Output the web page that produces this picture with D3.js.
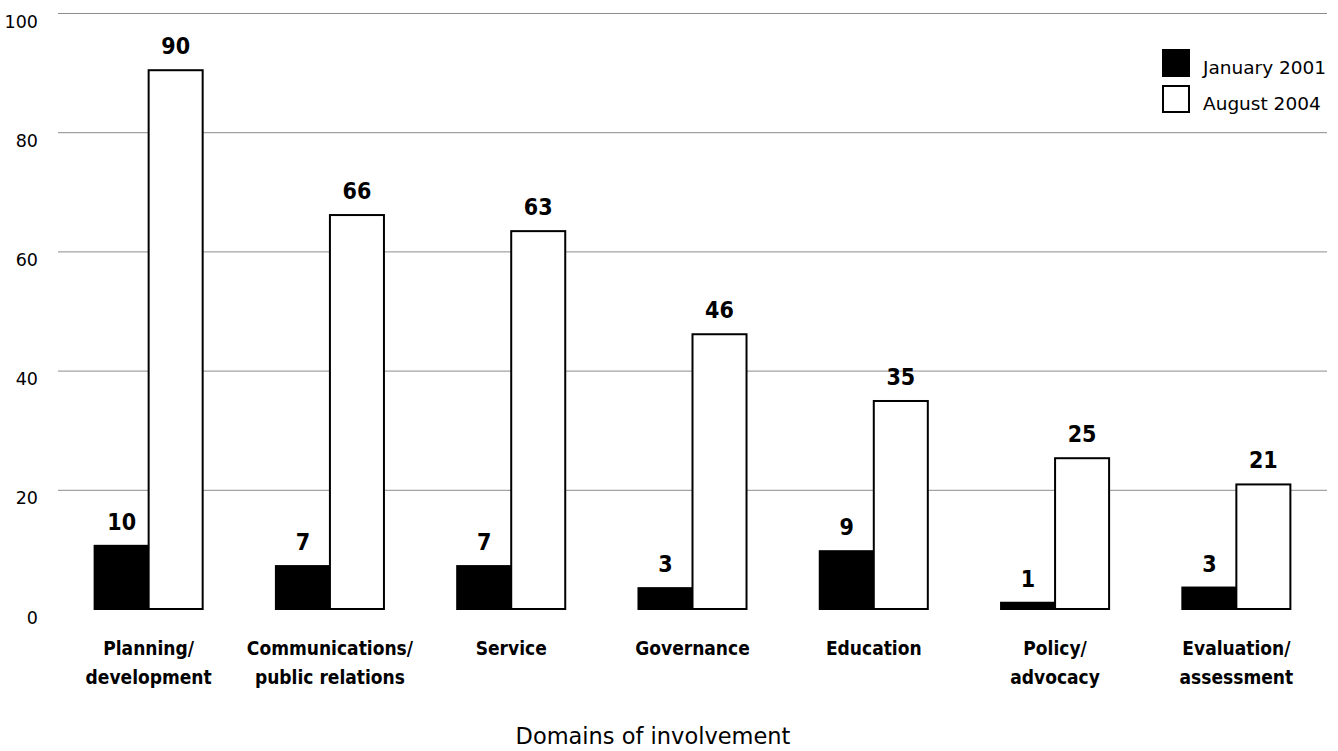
<!DOCTYPE html>
<html>
<head>
<meta charset="utf-8">
<script src="https://cdn.jsdelivr.net/npm/d3@7"></script>
<style>
  body { margin: 0; background: #fff; }
  svg { display: block; }
  text { font-family: "DejaVu Sans", sans-serif; fill: #000; }
  .bold { font-family: "DejaVu Sans Condensed", "DejaVu Sans", sans-serif; font-stretch: condensed; font-weight: bold; }
</style>
</head>
<body>
<svg id="chart" width="1338" height="751"></svg>
<script>
// chart data
const categories = [
  ["Planning/", "development"],
  ["Communications/", "public relations"],
  ["Service"],
  ["Governance"],
  ["Education"],
  ["Policy/", "advocacy"],
  ["Evaluation/", "assessment"]
];
const seriesNames = ["January 2001", "August 2004"];
const jan2001 = [10.6, 7.2, 7.2, 3.5, 9.7, 1.05, 3.6];
const aug2004 = [90.4, 66.1, 63.4, 46.1, 34.9, 25.3, 20.9];
const janLabels = ["10", "7", "7", "3", "9", "1", "3"];
const augLabels = ["90", "66", "63", "46", "35", "25", "21"];
const yTicks = [0, 20, 40, 60, 80, 100];
const xTitle = "Domains of involvement";

const svg = d3.select("#chart");
const plot = { left: 58, right: 1327, top: 13, bottom: 609 };

const x = d3.scaleBand()
  .domain(d3.range(categories.length))
  .range([plot.left, plot.right])
  .paddingInner(0.404)
  .paddingOuter(0.202);

const xInner = d3.scaleBand()
  .domain([0, 1])
  .range([0, x.bandwidth()]);

const y = d3.scaleLinear().domain([0, 100]).range([plot.bottom, plot.top]);

// grid lines + y labels
const yAxis = svg.append("g")
  .attr("transform", `translate(${plot.left},0)`)
  .call(d3.axisLeft(y).tickValues(yTicks).tickSize(-(plot.right - plot.left)).tickPadding(20));
yAxis.select(".domain").remove();
yAxis.selectAll(".tick line")
  .attr("stroke", "#8c8c8c")
  .attr("stroke-width", 1)
  .filter(d => d === 0).remove();
yAxis.selectAll(".tick text")
  .attr("dy", 14)
  .style("font-size", "17.5px")
  .style("font-family", "DejaVu Sans, sans-serif")
  .attr("fill", "#000");

// bars
const rows = categories.map((c, i) => ({ i, vals: [jan2001[i], aug2004[i]], labs: [janLabels[i], augLabels[i]] }));
const groups = svg.selectAll(".grp").data(rows).join("g")
  .attr("transform", d => `translate(${x(d.i)},0)`);

groups.selectAll("rect").data(d => d.vals.map((v, k) => ({ v, k }))).join("rect")
  .attr("x", d => xInner(d.k))
  .attr("width", xInner.bandwidth())
  .attr("y", d => y(d.v))
  .attr("height", d => y(0) - y(d.v))
  .attr("fill", d => d.k === 0 ? "#000" : "#fff")
  .attr("stroke", "#000")
  .attr("stroke-width", 2);

groups.selectAll(".val").data(d => d.labs.map((t, k) => ({ t, k, v: d.vals[k] }))).join("text")
  .attr("class", "bold")
  .attr("x", d => xInner(d.k) + xInner.bandwidth() / 2)
  .attr("y", d => y(d.v) - 16)
  .attr("text-anchor", "middle")
  .style("font-size", "23px")
  .text(d => d.t);

// category labels
groups.append("text")
  .attr("class", "bold")
  .attr("text-anchor", "middle")
  .style("font-size", "19px")
  .selectAll("tspan").data(d => categories[d.i]).join("tspan")
  .attr("x", x.bandwidth() / 2)
  .attr("y", (d, j) => 655 + j * 29)
  .text(d => d);

// axis title
svg.append("text")
  .attr("x", 653)
  .attr("y", 744)
  .attr("text-anchor", "middle")
  .style("font-size", "22.5px")
  .text(xTitle);

// legend
const legend = svg.append("g").attr("transform", "translate(1162,49)");
seriesNames.forEach((name, k) => {
  legend.append("rect")
    .attr("x", 1).attr("y", k * 36 + 1)
    .attr("width", 26).attr("height", 26)
    .attr("fill", k === 0 ? "#000" : "#fff")
    .attr("stroke", "#000").attr("stroke-width", 2);
  legend.append("text")
    .attr("x", 41).attr("y", k * 36 + 25)
    .style("font-size", "18.5px")
    .text(name);
});
</script>
</body>
</html>
